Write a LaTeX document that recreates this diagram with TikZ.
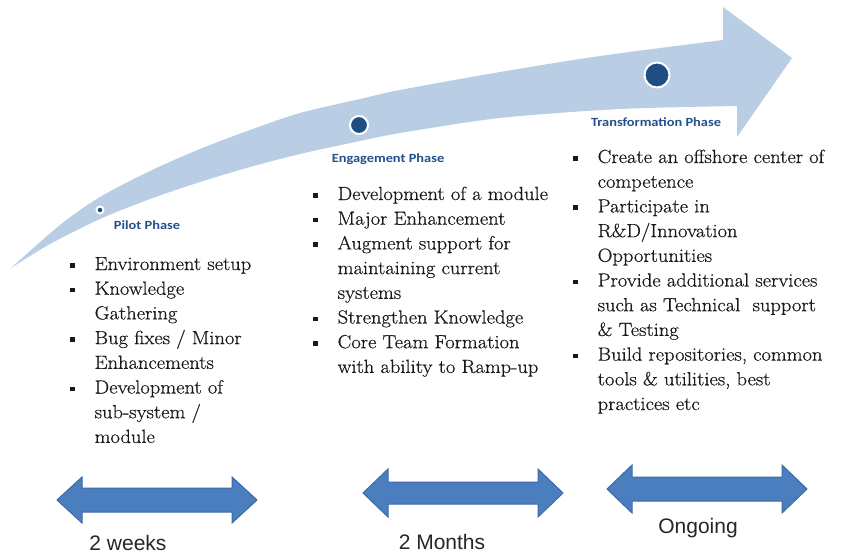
\documentclass[tikz,border=0pt]{standalone}
\usepackage{fontspec}
\newfontfamily\bodyfont[FakeStretch=1.08,FakeBold=0.6]{Latin Modern Roman}
\newfontfamily\phasefont[FakeStretch=1.15]{Carlito}
\newfontfamily\durfont{Liberation Sans}
\definecolor{band}{HTML}{B9CDE5}
\definecolor{dotblue}{HTML}{1F4E82}
\definecolor{lbl}{HTML}{24508C}
\definecolor{arrfill}{HTML}{4A7EBF}
\definecolor{arrdraw}{HTML}{3B6BA5}
\newcommand\itm{\makebox[24.5pt][l]{\rule[2.5pt]{4.5pt}{4.5pt}}}
\newcommand\cnt{\hspace*{24.5pt}}
\tikzset{
  phase/.style={font=\phasefont\bfseries\fontsize{12.5}{14}\selectfont, text=lbl, inner sep=0pt},
  pdot/.style={circle, fill=dotblue, draw=white, line width=2pt, inner sep=0pt},
  col/.style={font=\bodyfont\fontsize{19}{24.7}\selectfont, text=black!90, inner sep=0pt, anchor=base west},
  dbl/.style={fill=arrfill, draw=arrdraw, line width=1pt, line join=miter},
  dur/.style={font=\durfont\fontsize{21}{24}\selectfont, text=black!85, inner sep=0pt}
}
\begin{document}
\begin{tikzpicture}[x=1pt,y=-1pt]
\useasboundingbox (0,0) rectangle (853,558);
% curved band arrow
\fill[band] plot[smooth] coordinates {(11,268) (60,225) (100,197) (150,171) (200,149) (250,130) (300,113) (360,99) (400,90) (500,72) (600,56) (723,40)}
  -- (723,7) -- (792,58) -- (737,137) -- (737,106)
  -- plot[smooth] coordinates {(737,106) (620,109) (500,118) (400,133) (360,141) (300,154) (250,167) (200,182) (150,199) (100,219) (50,244) (11,268)} -- cycle;
% phase dots
\node[pdot, minimum size=7pt] (d1) at (100,210) {};
\node[pdot, minimum size=18pt] (d2) at (359,125) {};
\node[pdot, minimum size=25pt] (d3) at (657,75) {};
% phase labels
\node[phase] (p1) at (147,225) {Pilot Phase};
\node[phase] (p2) at (388,159) {Engagement Phase};
\node[phase] (p3) at (656,122) {Transformation Phase};
% bullet columns
\node[col] (c1) at (70,270) {\begin{tabular}[t]{@{}l@{}}
\itm Environment setup\\
\itm Knowledge\\
\cnt Gathering\\
\itm Bug fixes / Minor\\
\cnt Enhancements\\
\itm Development of\\
\cnt sub-system /\\
\cnt module
\end{tabular}};
\node[col] (c2) at (313,200) {\begin{tabular}[t]{@{}l@{}}
\itm Development of a module\\
\itm Major Enhancement\\
\itm Augment support for\\
\cnt maintaining current\\
\cnt systems\\
\itm Strengthen Knowledge\\
\itm Core Team Formation\\
\cnt with ability to Ramp-up
\end{tabular}};
\node[col] (c3) at (573,163) {\begin{tabular}[t]{@{}l@{}}
\itm Create an offshore center of\\
\cnt competence\\
\itm Participate in\\
\cnt R\&D/Innovation\\
\cnt Opportunities\\
\itm Provide additional services\\
\cnt such as Technical~ support\\
\cnt \& Testing\\
\itm Build repositories, common\\
\cnt tools \& utilities, best\\
\cnt practices etc
\end{tabular}};
% duration arrows
\draw[dbl] (57,500) -- ++(25,-23) -- ++(0,11) -- ++(150,0) -- ++(0,-11) -- ++(25,23) -- ++(-25,23) -- ++(0,-11) -- ++(-150,0) -- ++(0,11) -- cycle;
\draw[dbl] (363,493) -- ++(25,-24) -- ++(0,13) -- ++(150,0) -- ++(0,-13) -- ++(25,24) -- ++(-25,24) -- ++(0,-13) -- ++(-150,0) -- ++(0,13) -- cycle;
\draw[dbl] (607,489) -- ++(25,-24) -- ++(0,12) -- ++(150,0) -- ++(0,-12) -- ++(25,24) -- ++(-25,24) -- ++(0,-12) -- ++(-150,0) -- ++(0,12) -- cycle;
\node[dur] (t1) at (128,543) {2 weeks};
\node[dur] (t2) at (442,542) {2 Months};
\node[dur] (t3) at (698,528) {Ongoing};
\end{tikzpicture}
\end{document}
